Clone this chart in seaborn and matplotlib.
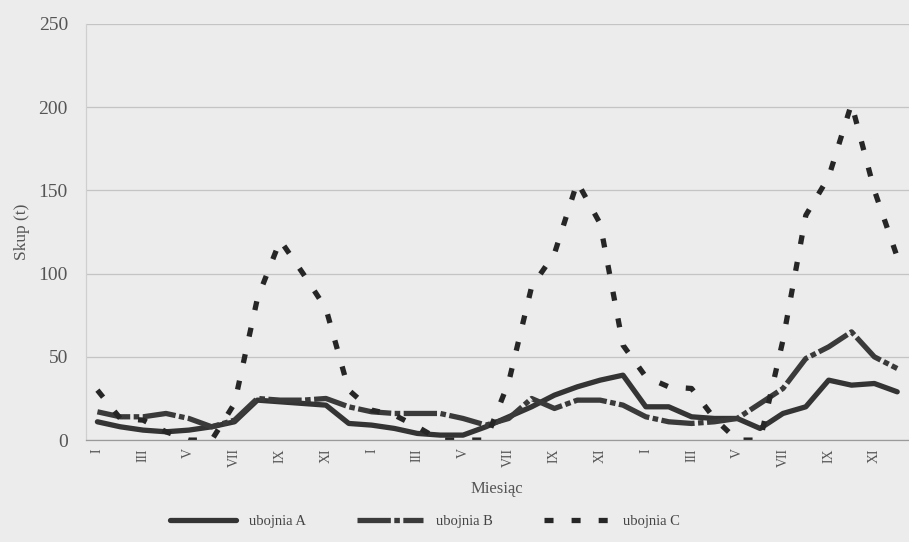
import numpy as np
import pandas as pd
import matplotlib
matplotlib.use("Agg")
import matplotlib.pyplot as plt
import seaborn as sns

# monthly values, three years (Jan..Dec x3)
months = ['I', 'II', 'III', 'IV', 'V', 'VI', 'VII', 'VIII', 'IX', 'X', 'XI', 'XII'] * 3
tick_labels = ['I', 'III', 'V', 'VII', 'IX', 'XI'] * 3

ubojnia_a = [11, 8, 6, 5, 6, 8, 11, 24, 23, 22, 21, 10,
             9, 7, 4, 3, 3, 8, 14, 20, 27, 32, 36, 39,
             20, 20, 14, 13, 13, 7, 16, 20, 36, 33, 34, 29]
ubojnia_b = [17, 14, 14, 16, 13, 8, 12, 25, 24, 24, 25, 20,
             17, 16, 16, 16, 13, 9, 13, 25, 19, 24, 24, 21,
             14, 11, 10, 11, 13, 22, 31, 49, 56, 65, 50, 43]
ubojnia_c = [30, 13, 12, 5, 0, 0, 22, 85, 120, 100, 79, 30,
             18, 15, 8, 0, 0, 0, 35, 92, 112, 155, 130, 57,
             38, 32, 31, 13, 0, 0, 60, 135, 158, 202, 150, 110]

series = {'ubojnia A': ubojnia_a, 'ubojnia B': ubojnia_b, 'ubojnia C': ubojnia_c}

rows = []
for name, vals in series.items():
    for i, v in enumerate(vals):
        rows.append({'idx': i, 'month': months[i], 'series': name, 'value': v})
df = pd.DataFrame(rows)

sns.set_theme(style='whitegrid')
plt.rcParams['font.family'] = ['Liberation Serif', 'DejaVu Serif']
plt.rcParams['lines.scale_dashes'] = False

bg = '#ececec'
fig = plt.figure(figsize=(9.09, 5.42), dpi=100, facecolor=bg)
ax = fig.add_axes([0.0946, 0.188, 0.905, 0.768])
ax.set_facecolor(bg)

palette = {'ubojnia A': '#343434', 'ubojnia B': '#3a3a3a', 'ubojnia C': '#262626'}
dashes = {'ubojnia A': '', 'ubojnia B': (24, 2.5, 4, 2.5), 'ubojnia C': (6.5, 13)}

sns.lineplot(data=df, x='idx', y='value', hue='series', style='series',
             palette=palette, dashes=dashes, linewidth=3.8, ax=ax,
             dash_capstyle='butt')

ax.set_xlim(-0.5, 35.5)
ax.set_ylim(0, 250)
ax.set_yticks(range(0, 251, 50))
ax.set_xticks(range(0, 36, 2))
ax.set_xticklabels(tick_labels, rotation=90, fontsize=10, color='#555555')
ax.tick_params(axis='y', labelsize=14, labelcolor='#555555', pad=7)
ax.tick_params(axis='x', pad=0)

ax.grid(axis='x', visible=False)
ax.grid(axis='y', color='#c4c4c4', linewidth=0.9)
for side in ['top', 'right']:
    ax.spines[side].set_visible(False)
ax.spines['left'].set_color('#cfcfcf')
ax.spines['bottom'].set_color('#9a9a9a')
ax.spines['left'].set_linewidth(0.9)
ax.spines['bottom'].set_linewidth(0.9)

ax.set_xlabel('Miesiąc', fontsize=12, color='#555555', labelpad=10)
ax.set_ylabel('Skup (t)', fontsize=12.5, color='#555555', labelpad=6)

sns.move_legend(ax, 'upper center', bbox_to_anchor=(0.412, -0.148), ncol=3,
                frameon=False, title=None, fontsize=10.5, handlelength=4.5,
                columnspacing=3.5, handletextpad=0.9)
for t in ax.get_legend().get_texts():
    t.set_color('#444444')

fig.savefig('out.png', dpi=100, facecolor=bg)
